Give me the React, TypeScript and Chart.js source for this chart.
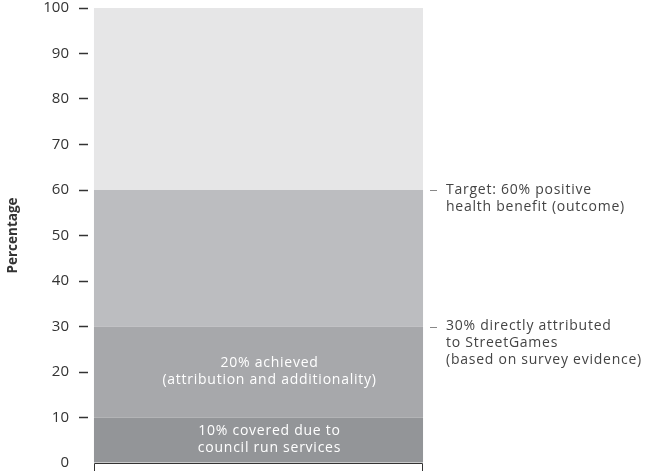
import React, { useEffect, useRef } from "react";
import { Chart, registerables } from "chart.js";

Chart.register(...registerables);

const categories = ["Health benefit"];
const councilServices = [10];
const achieved = [20];
const attributed = [30];
const targetGap = [40];
const segmentColors = ["#939598", "#a7a8ab", "#bcbdc0", "#e6e6e7"];
const segmentNames = ["Council run services", "Achieved", "Directly attributed", "Remaining"];
const segmentTexts: string[][] = [
  ["10% covered due to", "council run services"],
  ["20% achieved", "(attribution and additionality)"],
  [],
  [],
];
const annotationValues = [60, 30];
const annotationTexts: string[][] = [
  ["Target: 60% positive", "health benefit (outcome)"],
  ["30% directly attributed", "to StreetGames", "(based on survey evidence)"],
];
const yMin = 0;
const yMax = 100;
const yStep = 10;

const FONT = "'Open Sans', sans-serif";
const TEXT_SHIFT = 11;

const overlayPlugin = {
  id: "overlay",
  afterDatasetsDraw(chart: any) {
    const ctx = chart.ctx;
    const yScale = chart.scales.y;
    const area = chart.chartArea;
    ctx.save();
    (ctx as any).letterSpacing = "0.75px";
    // labels inside segments
    ctx.font = `14px ${FONT}`;
    ctx.fillStyle = "#ffffff";
    ctx.textAlign = "center";
    ctx.textBaseline = "middle";
    segmentTexts.forEach((lines, i) => {
      if (!lines.length) return;
      const el = chart.getDatasetMeta(i).data[0];
      if (!el) return;
      const cy = (el.y + el.base) / 2;
      const lh = 17;
      lines.forEach((t, k) => {
        ctx.fillText(t, el.x + TEXT_SHIFT, cy + (k - (lines.length - 1) / 2) * lh);
      });
    });
    // bracket baseline
    const b = chart.getDatasetMeta(0).data[0];
    if (b) {
      const l = Math.round(b.x - b.width / 2) + 0.5;
      const r = Math.round(b.x + b.width / 2) - 0.5;
      const y0 = Math.round(yScale.getPixelForValue(yMin)) + 0.5;
      ctx.strokeStyle = "#333333";
      ctx.lineWidth = 1;
      ctx.beginPath();
      ctx.moveTo(l, chart.height);
      ctx.lineTo(l, y0);
      ctx.lineTo(r, y0);
      ctx.lineTo(r, chart.height);
      ctx.stroke();
    }
    // annotations on right
    ctx.font = `14px ${FONT}`;
    ctx.textAlign = "left";
    ctx.textBaseline = "middle";
    annotationValues.forEach((v, i) => {
      const y = yScale.getPixelForValue(v);
      ctx.strokeStyle = "#888888";
      ctx.lineWidth = 1;
      ctx.beginPath();
      ctx.moveTo(area.right + 1, Math.round(y) + 0.5);
      ctx.lineTo(area.right + 8, Math.round(y) + 0.5);
      ctx.stroke();
      ctx.fillStyle = "#444444";
      annotationTexts[i].forEach((t, k) => {
        ctx.fillText(t, area.right + 17, y + k * 17);
      });
    });
    ctx.restore();
  },
};

export default function App() {
  const ref = useRef<HTMLCanvasElement | null>(null);
  useEffect(() => {
    if (!ref.current) return;
    const series = [councilServices, achieved, attributed, targetGap];
    const chart = new Chart(ref.current, {
      type: "bar",
      data: {
        labels: categories,
        datasets: series.map((d, i) => ({
          label: segmentNames[i],
          data: d,
          backgroundColor: segmentColors[i],
          borderWidth: 0,
          categoryPercentage: 1,
          barPercentage: 0.965,
        })),
      },
      options: {
        animation: false,
        responsive: false,
        layout: { padding: { top: 0, bottom: 0, left: 0, right: 220 } },
        plugins: { legend: { display: false }, tooltip: { enabled: false } },
        scales: {
          x: { stacked: true, display: false },
          y: {
            stacked: true,
            min: yMin,
            max: yMax,
            afterFit: (s: any) => {
              s.width = 88;
              s.paddingTop = 8;
              s.paddingBottom = 8;
            },
            border: { display: false },
            grid: {
              drawOnChartArea: false,
              drawTicks: true,
              tickLength: 9,
              tickWidth: 1.5,
              tickColor: (c: any) => (c.tick && c.tick.value === 0 ? "rgba(0,0,0,0)" : "#333333"),
            },
            ticks: {
              stepSize: yStep,
              padding: 10,
              color: "#333333",
              font: { family: FONT, size: 15, lineHeight: 1.0667 },
            },
            title: {
              display: true,
              text: "Percentage",
              color: "#333333",
              font: { family: FONT, size: 13.5, weight: "bold" },
              padding: { top: 5, bottom: 0 },
            },
          },
        },
      },
      plugins: [overlayPlugin],
    });
    return () => chart.destroy();
  }, []);
  return (
    <div style={{ position: "absolute", left: 0, top: 0, width: 649, height: 471 }}>
      <canvas ref={ref} width={649} height={471} />
    </div>
  );
}
